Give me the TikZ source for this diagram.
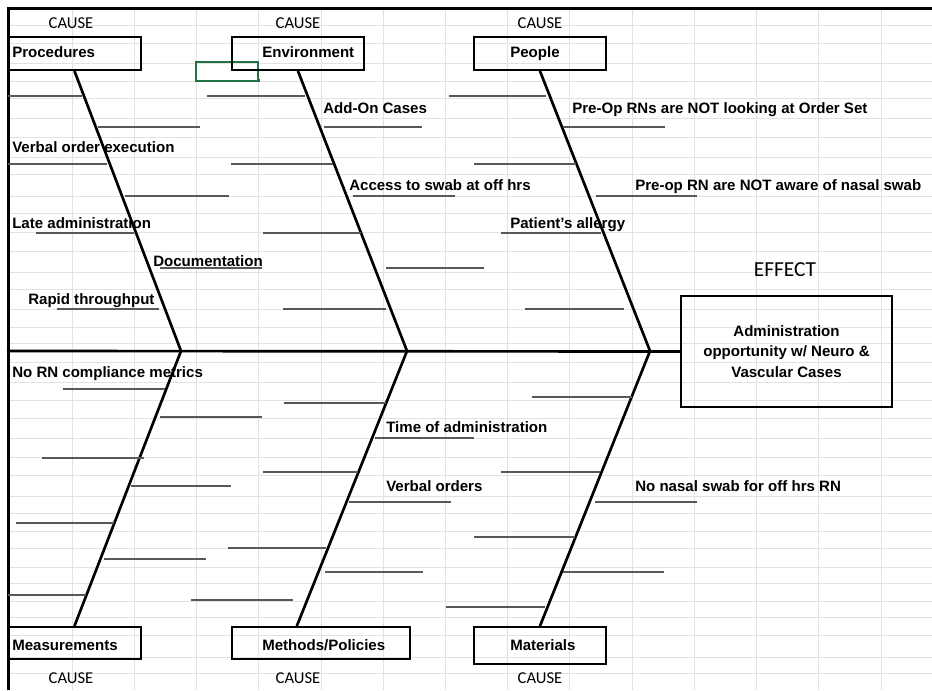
\documentclass[tikz,border=0pt]{standalone}
\usepackage{fontspec}
\setmainfont{Liberation Sans}
\newfontfamily\calibri{Carlito}
\usetikzlibrary{positioning,calc}
\definecolor{gridgray}{RGB}{226,226,226}
\definecolor{stubgray}{RGB}{88,88,88}
\definecolor{selgreen}{RGB}{33,115,70}
\tikzset{
  catbox/.style = {draw, line width=1.6pt, minimum height=0.825cm, inner sep=0pt},
  lbl/.style    = {font=\fontsize{10.7}{14.7}\selectfont\bfseries, inner sep=0pt,
                   anchor=base west},
  cause/.style  = {font=\calibri\fontsize{11.8}{14}\selectfont, inner sep=0pt},
  bone/.style   = {line width=1.9pt, line cap=round},
  stub/.style   = {stubgray, line width=0.9pt},
  gridln/.style = {gridgray, line width=0.6pt}
}

\begin{document}
\begin{tikzpicture}[x=0.025cm, y=-0.025cm]
    \useasboundingbox (0,0) rectangle (932,690);
    % sheet grid
    \foreach \y in {25,43,63,81,98,118,137,157,174,196,213,232,251,272,289,309,327,
                    343,362,382,400,418,438,457,475,496,513,531,548,567,583,601,617,
                    635,657,673}
      \draw[gridln] (8,\y) -- (932,\y);
    \foreach \x in {72,134,196,258,321,383,445,507,569,632,694,756,818,881}
      \draw[gridln] (\x,8) -- (\x,690);
    \draw[line width=1.9pt] (8.7,690) -- (8.7,8.7) -- (932,8.7);
    \draw[selgreen, line width=0.8pt] (196,62) rectangle (258,81);
    \fill[selgreen] (256.5,79.5) rectangle (259.5,82.5);

    % cause boxes
    \node[catbox, minimum width=3.325cm] (proc) at (74.5,53.5) {};
    \node[catbox, minimum width=3.3cm]   (env)  at (298,53.5)  {};
    \node[catbox, minimum width=3.3cm]   (ppl)  at (540,53.5)  {};
    \node[catbox, minimum width=3.325cm, minimum height=0.8cm]  (meas) at (74.5,643)  {};
    \node[catbox, minimum width=4.45cm,  minimum height=0.8cm]  (meth) at (321,643)   {};
    \node[catbox, minimum width=3.3cm,   minimum height=0.925cm](mat)  at (540,645.5) {};
    \node[lbl] (procT) at (12,58)   {Procedures};
    \node[lbl] (envT)  at (262,58)  {Environment};
    \node[lbl] (pplT)  at (510,58)  {People};
    \node[lbl] (measT) at (12,650)  {Measurements};
    \node[lbl] (methT) at (262,650) {Methods/Policies};
    \node[lbl] (matT)  at (510,650) {Materials};
    \node[cause] (c1) at (71,23.5)  {CAUSE};
    \node[cause] (c2) at (298,23.5) {CAUSE};
    \node[cause] (c3) at (540,23.5) {CAUSE};
    \node[cause] (c4) at (71,678)   {CAUSE};
    \node[cause] (c5) at (298,678)  {CAUSE};
    \node[cause] (c6) at (540,678)  {CAUSE};

    % effect
    \node[draw, line width=1.6pt, minimum width=5.275cm, minimum height=2.775cm,
          align=center, inner sep=0pt, font=\fontsize{10.7}{14.7}\selectfont\bfseries]
          (eff) at (786.5,351.5) {Administration\\opportunity w/ Neuro \&\\Vascular Cases};
    \node[cause, font=\calibri\fontsize{15.2}{18}\selectfont] (effT) at (785,270) {EFFECT};

    % spine and bones
    \coordinate (tail) at (8,351);
    \coordinate (j1) at (181,351);
    \coordinate (j2) at (407,351);
    \coordinate (j3) at (650,351);
    \draw[bone] (tail) -- (eff.west);
    \draw[bone] (proc.south) -- (j1) -- (meas.north);
    \draw[bone] (env.south) -- (j2) -- ($(meth.north west)+(66,0)$);
    \draw[bone] (ppl.south) -- (j3) -- (mat.north);

    % sub-cause lines
    \foreach \y/\a/\b in {96/8/82, 127/98/200, 164/8/107, 196/125/229, 233/36/134,
        268/160/262, 309/57/159, 96/207/305, 127/324/422, 164/231/333, 196/353/455,
        233/263/361, 268/386/484, 309/283/386, 96/449/546, 127/563/665, 164/474/576,
        196/596/697, 233/501/601, 309/525/624, 389/63/165, 417/160/262, 458/42/144,
        486/131/231, 523/16/114, 559/104/206, 595/8/86, 403/284/386, 438/375/474,
        472/263/358, 502/349/451, 548/228/326, 572/325/423, 600/191/293, 397/532/632,
        472/501/600, 502/595/697, 537/474/575, 572/563/664, 607/446/545}
      \draw[stub] (\a,\y) -- (\b,\y);

    % sub-cause labels
    \node[lbl] (vo)   at (12,152)  {Verbal order execution};
    \node[lbl] (la)   at (12,228)  {Late administration};
    \node[lbl] (doc)  at (153,266) {Documentation};
    \node[lbl] (rt)   at (28,304)  {Rapid throughput};
    \node[lbl] (aoc)  at (323,113) {Add-On Cases};
    \node[lbl] (acc)  at (349,190) {Access to swab at off hrs};
    \node[lbl] (pre1) at (572,113) {Pre-Op RNs are NOT looking at Order Set};
    \node[lbl] (pre2) at (635,190) {Pre-op RN are NOT aware of nasal swab};
    \node[lbl] (pa)   at (510,228) {Patient's allergy};
    \node[lbl] (nrc)  at (12,377)  {No RN compliance metrics};
    \node[lbl] (toa)  at (386,432) {Time of administration};
    \node[lbl] (vord) at (386,491) {Verbal orders};
    \node[lbl] (nns)  at (635,491) {No nasal swab for off hrs RN};
  \end{tikzpicture}
\end{document}
